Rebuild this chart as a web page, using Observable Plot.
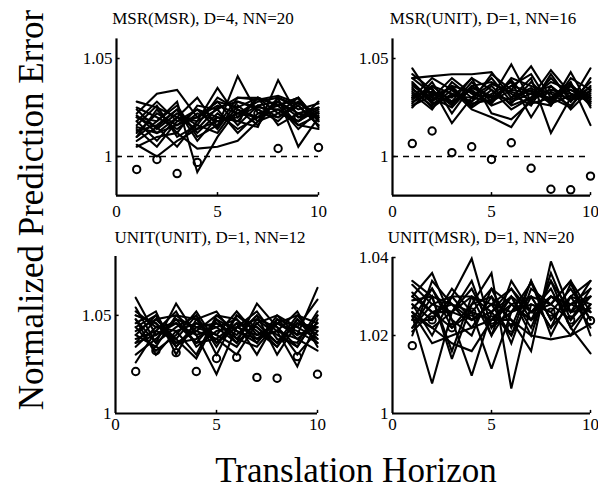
<!DOCTYPE html>
<html><head><meta charset="utf-8">
<script src="https://cdn.jsdelivr.net/npm/d3@7"></script>
<script src="https://cdn.jsdelivr.net/npm/@observablehq/plot@0.6"></script>
<style>
html,body{margin:0;padding:0;background:#fff;}
#root{position:relative;width:598px;height:495px;overflow:hidden;font-family:"Liberation Serif","Times New Roman",serif;background:#fff;}
#root > svg{position:absolute;}
</style></head><body><div id="root"></div>
<script>
// ---------- data ----------
const horizons = [1, 2, 3, 4, 5, 6, 7, 8, 9, 10];
const xTicks = [0, 5, 10];
const titles = ["MSR(MSR), D=4, NN=20", "MSR(UNIT), D=1, NN=16", "UNIT(UNIT), D=1, NN=12", "UNIT(MSR), D=1, NN=20"];
const yLabel = "Normalized Prediction Error";
const xLabel = "Translation Horizon";
const yTicksTop = [1, 1.05];
const yTicksBL = [1, 1.05];
const yTicksBR = [1, 1.02, 1.04];

// panel 1: MSR(MSR)
const msrMsrSurrogates = [
  [1.028, 1.025, 1.020, 1.018, 1.024, 1.030, 1.029, 1.031, 1.027, 1.022],
  [1.022, 1.032, 1.034, 1.020, 1.028, 1.025, 1.030, 1.026, 1.030, 1.018],
  [1.010, 1.018, 1.028, 0.992, 1.010, 1.024, 1.020, 1.028, 1.022, 1.025],
  [1.015, 1.012, 1.020, 1.030, 1.015, 1.041, 1.022, 1.020, 1.026, 1.016],
  [1.005, 1.010, 1.012, 1.004, 1.005, 1.008, 1.018, 1.030, 1.005, 1.020],
  [1.020, 1.015, 1.005, 1.018, 1.035, 1.020, 1.030, 1.022, 1.018, 1.024],
  [1.012, 1.022, 1.016, 1.024, 1.020, 1.018, 1.015, 1.039, 1.020, 1.022],
  [1.018, 1.008, 1.020, 1.014, 1.025, 1.028, 1.024, 1.018, 1.028, 1.020],
  [1.025, 1.020, 1.014, 1.022, 1.018, 1.022, 1.028, 1.030, 1.024, 1.027],
  [1.008, 1.015, 1.024, 1.012, 1.022, 1.014, 1.020, 1.024, 1.016, 1.014],
  [1.016, 1.026, 1.010, 1.016, 1.012, 1.026, 1.018, 1.022, 1.030, 1.018],
  [1.014, 1.005, 1.018, 1.020, 1.028, 1.016, 1.026, 1.028, 1.020, 1.025],
  [1.020, 1.018, 1.026, 1.010, 1.016, 1.030, 1.030, 1.016, 1.022, 1.020],
  [1.010, 1.024, 1.012, 1.026, 1.024, 1.012, 1.022, 1.026, 1.014, 1.023],
  [1.024, 1.014, 1.022, 1.016, 1.030, 1.024, 1.016, 1.030, 1.026, 1.016],
  [1.006, 1.000, 1.008, 1.014, 1.018, 1.020, 1.026, 1.020, 1.028, 1.019],
  [1.018, 1.028, 1.018, 1.024, 1.014, 1.028, 1.025, 1.024, 1.018, 1.028],
  [1.013, 1.016, 1.024, 1.008, 1.020, 1.018, 1.030, 1.026, 1.030, 1.015],
  [1.021, 1.012, 1.016, 1.020, 1.026, 1.022, 1.020, 1.028, 1.016, 1.021]
];
const msrMsrOriginal = [0.9934, 0.9985, 0.9913, 0.997, 1.018, 1.020, 1.022, 1.0041, 1.020, 1.0046];

// panel 2: MSR(UNIT)
const msrUnitSurrogates = [
  [1.045, 1.030, 1.025, 1.036, 1.030, 1.047, 1.028, 1.040, 1.030, 1.035],
  [1.040, 1.041, 1.042, 1.042, 1.043, 1.030, 1.035, 1.028, 1.036, 1.030],
  [1.030, 1.035, 1.017, 1.030, 1.028, 1.034, 1.046, 1.030, 1.025, 1.040],
  [1.035, 1.025, 1.032, 1.028, 1.036, 1.026, 1.030, 1.044, 1.032, 1.028],
  [1.028, 1.032, 1.030, 1.040, 1.022, 1.019, 1.028, 1.026, 1.043, 1.025],
  [1.038, 1.028, 1.036, 1.025, 1.032, 1.038, 1.020, 1.036, 1.028, 1.045],
  [1.025, 1.036, 1.028, 1.034, 1.026, 1.030, 1.040, 1.012, 1.030, 1.032],
  [1.032, 1.024, 1.038, 1.030, 1.040, 1.028, 1.032, 1.030, 1.038, 1.016],
  [1.042, 1.034, 1.026, 1.038, 1.028, 1.040, 1.036, 1.032, 1.026, 1.036],
  [1.030, 1.040, 1.034, 1.026, 1.034, 1.024, 1.030, 1.038, 1.034, 1.028],
  [1.036, 1.030, 1.040, 1.032, 1.030, 1.036, 1.042, 1.026, 1.040, 1.034],
  [1.027, 1.038, 1.022, 1.036, 1.038, 1.032, 1.026, 1.042, 1.028, 1.038],
  [1.033, 1.026, 1.034, 1.024, 1.020, 1.015, 1.030, 1.034, 1.032, 1.030],
  [1.040, 1.032, 1.028, 1.040, 1.034, 1.027, 1.038, 1.028, 1.036, 1.026],
  [1.029, 1.036, 1.032, 1.028, 1.042, 1.034, 1.032, 1.036, 1.024, 1.034],
  [1.034, 1.029, 1.036, 1.033, 1.027, 1.039, 1.027, 1.030, 1.034, 1.029],
  [1.031, 1.033, 1.027, 1.035, 1.031, 1.029, 1.034, 1.027, 1.031, 1.033],
  [1.037, 1.027, 1.031, 1.030, 1.037, 1.033, 1.029, 1.033, 1.029, 1.031],
  [1.026, 1.031, 1.035, 1.027, 1.029, 1.036, 1.033, 1.029, 1.037, 1.027]
];
const msrUnitOriginal = [1.0066, 1.013, 1.002, 1.005, 0.9985, 1.007, 0.994, 0.9833, 0.983, 0.990];

// panel 3: UNIT(UNIT)
const unitUnitSurrogates = [
  [1.059, 1.040, 1.046, 1.036, 1.048, 1.042, 1.038, 1.046, 1.040, 1.064],
  [1.026, 1.042, 1.038, 1.050, 1.030, 1.050, 1.044, 1.034, 1.048, 1.036],
  [1.048, 1.036, 1.056, 1.040, 1.020, 1.044, 1.048, 1.040, 1.034, 1.050],
  [1.040, 1.050, 1.034, 1.046, 1.044, 1.036, 1.056, 1.044, 1.030, 1.042],
  [1.052, 1.044, 1.042, 1.030, 1.050, 1.048, 1.036, 1.050, 1.044, 1.038],
  [1.036, 1.048, 1.050, 1.042, 1.038, 1.030, 1.046, 1.036, 1.050, 1.046],
  [1.044, 1.032, 1.040, 1.052, 1.036, 1.046, 1.030, 1.048, 1.038, 1.032],
  [1.050, 1.046, 1.036, 1.038, 1.046, 1.040, 1.050, 1.030, 1.046, 1.044],
  [1.030, 1.038, 1.048, 1.044, 1.040, 1.052, 1.040, 1.042, 1.024, 1.048],
  [1.046, 1.052, 1.030, 1.048, 1.052, 1.038, 1.034, 1.046, 1.042, 1.036],
  [1.038, 1.042, 1.052, 1.034, 1.042, 1.044, 1.052, 1.038, 1.036, 1.052],
  [1.054, 1.036, 1.044, 1.050, 1.034, 1.050, 1.042, 1.034, 1.048, 1.040],
  [1.042, 1.048, 1.038, 1.028, 1.048, 1.036, 1.046, 1.050, 1.040, 1.044],
  [1.034, 1.044, 1.046, 1.040, 1.044, 1.048, 1.038, 1.042, 1.052, 1.034],
  [1.048, 1.030, 1.042, 1.046, 1.040, 1.034, 1.048, 1.044, 1.034, 1.050],
  [1.044, 1.050, 1.036, 1.042, 1.050, 1.042, 1.036, 1.048, 1.044, 1.058],
  [1.036, 1.040, 1.048, 1.036, 1.038, 1.046, 1.044, 1.036, 1.046, 1.042],
  [1.050, 1.046, 1.034, 1.044, 1.046, 1.038, 1.050, 1.042, 1.038, 1.046],
  [1.040, 1.034, 1.050, 1.048, 1.036, 1.044, 1.040, 1.046, 1.050, 1.038]
];
const unitUnitOriginal = [1.0214, 1.032, 1.031, 1.0214, 1.028, 1.0286, 1.0184, 1.018, 1.029, 1.020];

// panel 4: UNIT(MSR)
const unitMsrSurrogates = [
  [1.033, 1.028, 1.030, 1.0397, 1.022, 1.030, 1.020, 1.036, 1.024, 1.030],
  [1.025, 1.0077, 1.026, 1.024, 1.028, 1.020, 1.030, 1.028, 1.034, 1.026],
  [1.030, 1.036, 1.024, 1.0097, 1.026, 1.032, 1.024, 1.030, 1.028, 1.032],
  [1.022, 1.030, 1.014, 1.028, 1.036, 1.0064, 1.028, 1.026, 1.020, 1.028],
  [1.028, 1.024, 1.032, 1.026, 1.0115, 1.026, 1.0335, 1.024, 1.030, 1.022],
  [1.020, 1.034, 1.028, 1.022, 1.030, 1.024, 1.016, 1.039, 1.026, 1.034],
  [1.026, 1.022, 1.018, 1.016, 1.024, 1.028, 1.030, 1.022, 1.0333, 1.024],
  [1.031, 1.026, 1.026, 1.030, 1.020, 1.034, 1.026, 1.032, 1.022, 1.0154],
  [1.024, 1.032, 1.022, 1.026, 1.032, 1.022, 1.034, 1.020, 1.030, 1.028],
  [1.028, 1.020, 1.030, 1.024, 1.026, 1.030, 1.022, 1.034, 1.026, 1.030],
  [1.022, 1.028, 1.026, 1.032, 1.022, 1.026, 1.028, 1.026, 1.032, 1.024],
  [1.030, 1.026, 1.022, 1.028, 1.030, 1.018, 1.032, 1.028, 1.024, 1.032],
  [1.026, 1.018, 1.020, 1.022, 1.024, 1.024, 1.020, 1.019, 1.020, 1.023],
  [1.034, 1.030, 1.028, 1.024, 1.028, 1.032, 1.026, 1.030, 1.028, 1.026],
  [1.024, 1.024, 1.030, 1.030, 1.026, 1.020, 1.034, 1.024, 1.030, 1.034],
  [1.027, 1.032, 1.024, 1.020, 1.032, 1.028, 1.024, 1.034, 1.022, 1.028],
  [1.021, 1.026, 1.028, 1.026, 1.024, 1.030, 1.026, 1.028, 1.034, 1.020],
  [1.029, 1.030, 1.016, 1.030, 1.028, 1.026, 1.030, 1.022, 1.028, 1.030],
  [1.025, 1.022, 1.026, 1.034, 1.020, 1.028, 1.024, 1.030, 1.026, 1.027]
];
const unitMsrOriginal = [1.0174, 1.024, 1.022, 1.026, 1.024, 1.022, 1.025, 1.026, 1.024, 1.0238];

// ---------- drawing ----------
const root = document.getElementById("root");
const FONT = '"Liberation Serif","Times New Roman",serif';
const fmt = d => String(+(+d).toFixed(2));

function panel(surr, orig, o) {
  const lines = surr.flatMap((run, i) => run.map((v, j) => ({run: i, h: horizons[j], v})));
  const dots = orig.map((v, j) => ({h: horizons[j], v}));
  const [y0, y1] = o.yDomain;
  const marks = [];
  if (o.dashed) marks.push(Plot.ruleY([1], {stroke: "black", strokeWidth: 1.7, strokeDasharray: "6,5"}));
  marks.push(Plot.line(lines, {x: "h", y: "v", z: "run", stroke: "black", strokeWidth: 2.1, strokeLinejoin: "miter", strokeMiterlimit: 3}));
  marks.push(Plot.dot(dots, {x: "h", y: "v", r: 3.7, stroke: "black", strokeWidth: 2, fill: "none"}));
  marks.push(Plot.ruleX([0], {stroke: "black", strokeWidth: 2.2}));
  marks.push(Plot.ruleY([y0], {stroke: "black", strokeWidth: 2.2}));
  marks.push(Plot.ruleY(o.yTicks.filter(t => t > y0), {x1: 0, x2: 0.18, stroke: "black", strokeWidth: 1.5}));
  marks.push(Plot.ruleX([5, 10], {y1: y0, y2: y0 + (y1 - y0) * 0.02, stroke: "black", strokeWidth: 1.5}));
  marks.push(Plot.axisX(xTicks, {tickSize: 0, tickPadding: o.xPad, fontSize: 17, tickFormat: d => String(d), label: null}));
  marks.push(Plot.axisY(o.yTicks, {tickSize: 0, tickPadding: 4, fontSize: 17, tickFormat: fmt, label: null}));
  const svg = Plot.plot({
    width: o.w, height: o.h,
    marginLeft: o.ml, marginRight: o.mr, marginTop: o.mt, marginBottom: o.mb,
    x: {domain: [0, 10], label: null},
    y: {domain: [y0, y1], label: null},
    style: {fontFamily: FONT, fontSize: "17px", background: "transparent", color: "black", overflow: "visible"},
    marks
  });
  svg.style.position = "absolute";
  svg.style.left = o.left + "px";
  svg.style.top = o.top + "px";
  root.appendChild(svg);
}

// top-left
panel(msrMsrSurrogates, msrMsrOriginal, {left: 60, top: 0, w: 270, h: 230, ml: 56, mr: 12, mt: 38.4, mb: 34.8, yDomain: [0.98, 1.06], yTicks: yTicksTop, dashed: true, xPad: 9});
// top-right
panel(msrUnitSurrogates, msrUnitOriginal, {left: 336, top: 0, w: 262, h: 230, ml: 56, mr: 8, mt: 38.4, mb: 34.8, yDomain: [0.98, 1.06], yTicks: yTicksTop, dashed: true, xPad: 9});
// bottom-left
panel(unitUnitSurrogates, unitUnitOriginal, {left: 59, top: 230, w: 270, h: 230, ml: 56, mr: 12, mt: 26, mb: 47, yDomain: [1, 1.08], yTicks: yTicksBL, dashed: false, xPad: 4});
// bottom-right
panel(unitMsrSurrogates, unitMsrOriginal, {left: 336, top: 230, w: 262, h: 230, ml: 56, mr: 8, mt: 27, mb: 47, yDomain: [1, 1.04], yTicks: yTicksBR, dashed: false, xPad: 4});

// titles and axis labels as text
const ns = "http://www.w3.org/2000/svg";
const lab = document.createElementNS(ns, "svg");
lab.setAttribute("width", 598); lab.setAttribute("height", 495);
lab.style.left = "0px"; lab.style.top = "0px";
function addText(str, x, y, size, rotate) {
  const t = document.createElementNS(ns, "text");
  t.setAttribute("x", x); t.setAttribute("y", y);
  t.setAttribute("text-anchor", "middle");
  t.setAttribute("font-family", FONT);
  t.setAttribute("font-size", size);
  t.setAttribute("fill", "black");
  if (rotate) t.setAttribute("transform", `rotate(-90 ${x} ${y})`);
  t.textContent = str;
  lab.appendChild(t);
}
addText(titles[0], 203, 24, 17);
addText(titles[1], 483, 24, 17);
addText(titles[2], 210, 243, 17);
addText(titles[3], 481, 243, 17);
addText(yLabel, 43, 210, 35, true);
addText(xLabel, 356, 482, 35);
root.insertBefore(lab, root.firstChild);
</script></body></html>
